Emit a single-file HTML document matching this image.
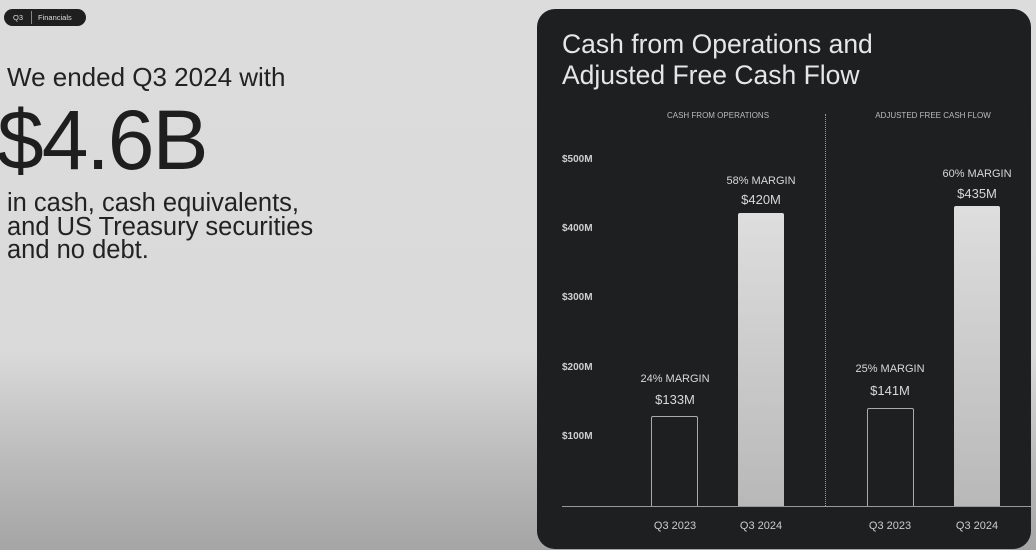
<!DOCTYPE html>
<html><head><style>
*{margin:0;padding:0;box-sizing:border-box}
body{width:1036px;height:550px;overflow:hidden;position:relative;font-family:"Liberation Sans",sans-serif;background:linear-gradient(180deg,#dcdcdc 0%,#dadada 64%,#c4c4c4 78%,#b2b2b2 90%,#a5a5a5 100%)}
.t{position:absolute;white-space:nowrap}
.pill{position:absolute;left:4px;top:9px;width:82px;height:17px;background:#1f1f1f;border-radius:9px;color:#ddd;font-size:7.5px}
.panel{position:absolute;left:537px;top:9px;width:494px;height:540px;background:#1e1f21;border-radius:18px}
.y{position:absolute;left:562px;color:#cfcfcf;font-size:10px;font-weight:bold}
.lab{position:absolute;color:#d8d8d8;text-align:center;width:140px;white-space:nowrap}
</style></head><body>
<div class="pill"><span class="t" style="left:9px;top:4px">Q3</span><span style="position:absolute;left:27px;top:2px;width:1px;height:13px;background:#888"></span><span class="t" style="left:34px;top:4px">Financials</span></div>
<div class="t" style="left:7px;top:62px;font-size:26px;color:#222">We ended Q3 2024 with</div>
<div class="t" style="left:-3px;top:92px;font-size:84px;color:#1e1e1e;letter-spacing:-2px">$4.6B</div>
<div class="t" style="left:7px;top:192px;font-size:25.5px;color:#222;line-height:23.5px">in cash, cash equivalents,<br>and US Treasury securities<br>and no debt.</div>
<div class="panel"></div>
<div class="t" style="left:562px;top:29px;font-size:26.5px;color:#e6e6e6;line-height:31px">Cash from Operations and<br>Adjusted Free Cash Flow</div>
<div class="lab" style="left:648px;top:111px;font-size:8px;color:#bbb">CASH FROM OPERATIONS</div>
<div class="lab" style="left:863px;top:111px;font-size:8px;color:#bbb">ADJUSTED FREE CASH FLOW</div>
<div style="position:absolute;left:825px;top:114px;height:392px;border-left:1px dotted #999"></div>
<div class="y" style="top:154px">$500M</div>
<div class="y" style="top:223px">$400M</div>
<div class="y" style="top:292px">$300M</div>
<div class="y" style="top:362px">$200M</div>
<div class="y" style="top:431px">$100M</div>
<div style="position:absolute;left:651px;top:416px;width:47px;height:90px;border:1px solid #aaa;border-bottom:none;border-radius:2px 2px 0 0"></div>
<div style="position:absolute;left:738px;top:213px;width:46px;height:293px;background:linear-gradient(#dedede,#b8b8b8);border-radius:2px 2px 0 0"></div>
<div style="position:absolute;left:867px;top:408px;width:47px;height:98px;border:1px solid #aaa;border-bottom:none;border-radius:2px 2px 0 0"></div>
<div style="position:absolute;left:954px;top:206px;width:46px;height:300px;background:linear-gradient(#dedede,#b8b8b8);border-radius:2px 2px 0 0"></div>
<div style="position:absolute;left:562px;top:506px;width:469px;height:1px;background:#999"></div>
<div class="lab" style="left:605px;top:373px;font-size:11px">24% MARGIN</div>
<div class="lab" style="left:605px;top:392px;font-size:13px">$133M</div>
<div class="lab" style="left:691px;top:175px;font-size:11px">58% MARGIN</div>
<div class="lab" style="left:691px;top:192px;font-size:13px">$420M</div>
<div class="lab" style="left:820px;top:363px;font-size:11px">25% MARGIN</div>
<div class="lab" style="left:820px;top:383px;font-size:13px">$141M</div>
<div class="lab" style="left:907px;top:168px;font-size:11px">60% MARGIN</div>
<div class="lab" style="left:907px;top:186px;font-size:13px">$435M</div>
<div class="lab" style="left:605px;top:520px;font-size:11px;color:#ccc">Q3 2023</div>
<div class="lab" style="left:691px;top:520px;font-size:11px;color:#ccc">Q3 2024</div>
<div class="lab" style="left:820px;top:520px;font-size:11px;color:#ccc">Q3 2023</div>
<div class="lab" style="left:907px;top:520px;font-size:11px;color:#ccc">Q3 2024</div>
</body></html>
